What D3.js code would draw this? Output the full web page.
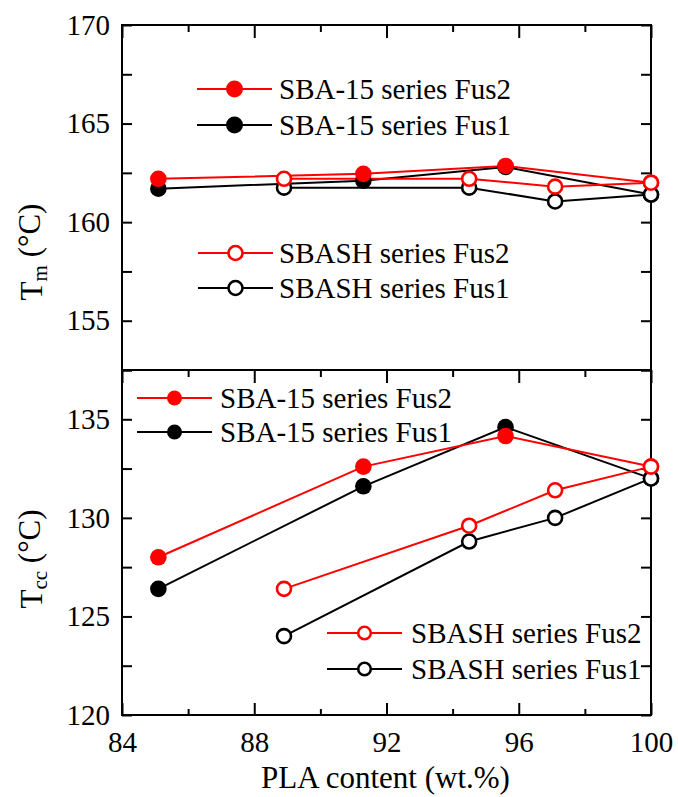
<!DOCTYPE html>
<html>
<head>
<meta charset="utf-8">
<script src="https://cdn.jsdelivr.net/npm/d3@7"></script>
<style>
  html, body { margin: 0; padding: 0; background: #fff; }
  svg { display: block; }
  svg text { font-family: "Liberation Serif", "Times New Roman", Times, "Nimbus Roman", "DejaVu Serif", serif; }
</style>
</head>
<body>
<svg id="chart" width="678" height="797"></svg>
<script>
// PLA content (wt.%) of each composite
const sbaX   = [85.1, 91.3, 95.6, 100];
const sbashX = [88.9, 94.5, 97.1, 100];

// Melting temperature Tm (°C)
const tmSbaFus2   = [162.2, 162.45, 162.85, 162.0];
const tmSbaFus1   = [161.7, 162.1, 162.8, 161.4];
const tmSbashFus2 = [162.2, 162.2, 161.8, 162.0];
const tmSbashFus1 = [161.75, 161.75, 161.05, 161.4];

// Cold crystallization temperature Tcc (°C)
const tccSbaFus2   = [128.0, 132.6, 134.15, 132.6];
const tccSbaFus1   = [126.4, 131.6, 134.6, 132.0];
const tccSbashFus2 = [126.4, 129.6, 131.4, 132.6];
const tccSbashFus1 = [124.0, 128.8, 130.0, 132.0];

// Axis ticks
const xMajor = [84, 88, 92, 96, 100];
const xMinor = [86, 90, 94, 98];
const tmMajor = [155, 160, 165, 170];
const tmMinor = [152.5, 157.5, 162.5, 167.5];
const tccMajor = [120, 125, 130, 135];
const tccMinor = [122.5, 127.5, 132.5, 137.5];

const RED = "#ff0000", BLACK = "#000000";
const SERIF = '"Liberation Serif", "Times New Roman", Times, "Nimbus Roman", "DejaVu Serif", serif';

const svg = d3.select("#chart");
const plotLeft = 122, plotRight = 651, plotTop = 25, plotMid = 370, plotBottom = 715;

const x = d3.scaleLinear([84, 100], [plotLeft, plotRight]);
const yTm = d3.scaleLinear([152.5, 170], [plotMid, plotTop]);
const yTcc = d3.scaleLinear([120, 137.5], [plotBottom, plotMid]);

const FONT = 29;

function styleAxis(g) {
  g.attr("font-family", null).attr("font-size", null);
  g.select(".domain").remove();
  g.selectAll("line").attr("stroke", "#000").attr("stroke-width", 2);
  g.selectAll("text").attr("fill", "#000").style("font-size", FONT + "px")
    .style("font-family", SERIF);
}

function panel(y, yMajor, yMinor, isBottom, series, legends) {
  const g = svg.append("g");
  // frame
  g.append("rect")
    .attr("x", plotLeft).attr("y", y.range()[1])
    .attr("width", plotRight - plotLeft).attr("height", y.range()[0] - y.range()[1])
    .attr("fill", "none").attr("stroke", "#000").attr("stroke-width", 2);

  // left axis, ticks pointing inward
  g.append("g").attr("transform", `translate(${plotLeft},0)`)
    .call(d3.axisLeft(y).tickValues(yMajor).tickSize(-10).tickPadding(12).tickFormat(d3.format("d")))
    .call(styleAxis);
  g.append("g").attr("transform", `translate(${plotLeft},0)`)
    .call(d3.axisLeft(y).tickValues(yMinor).tickSize(-10).tickFormat(""))
    .call(styleAxis);
  // right axis ticks
  g.append("g").attr("transform", `translate(${plotRight},0)`)
    .call(d3.axisRight(y).tickValues(yMajor.concat(yMinor)).tickSize(-10).tickFormat(""))
    .call(styleAxis);
  // top ticks
  const yTop = y.range()[1];
  g.append("g").attr("transform", `translate(0,${yTop})`)
    .call(d3.axisTop(x).tickValues(xMajor).tickSize(-13).tickFormat(""))
    .call(styleAxis);
  g.append("g").attr("transform", `translate(0,${yTop})`)
    .call(d3.axisTop(x).tickValues(xMinor).tickSize(-7).tickFormat(""))
    .call(styleAxis);
  if (isBottom) {
    g.append("g").attr("transform", `translate(0,${plotBottom})`)
      .call(d3.axisBottom(x).tickValues(xMajor).tickSize(-12).tickPadding(16).tickFormat(d3.format("d")))
      .call(styleAxis);
    g.append("g").attr("transform", `translate(0,${plotBottom})`)
      .call(d3.axisBottom(x).tickValues(xMinor).tickSize(-6).tickFormat(""))
      .call(styleAxis);
  }

  const line = d3.line().x(d => x(d[0])).y(d => y(d[1]));
  // lines first
  series.forEach(s => {
    g.append("path").datum(d3.zip(s.xs, s.ys))
      .attr("d", line).attr("fill", "none")
      .attr("stroke", s.color).attr("stroke-width", 2);
  });
  // markers: filled series beneath open series
  const order = series.slice().sort((a, b) => (a.open - b.open));
  order.forEach(s => {
    g.append("g").selectAll("circle").data(d3.zip(s.xs, s.ys)).join("circle")
      .attr("cx", d => x(d[0])).attr("cy", d => y(d[1]))
      .attr("r", s.open ? 7 : 8.3)
      .attr("fill", s.open ? "#fff" : s.color)
      .attr("stroke", s.color)
      .attr("stroke-width", s.open ? 2.6 : 0);
  });

  // legends
  legends.forEach(L => {
    L.rows.forEach((row, i) => {
      const ly = L.y[i];
      const lg = g.append("g");
      lg.append("line").attr("x1", L.x1).attr("x2", L.x2).attr("y1", ly).attr("y2", ly)
        .attr("stroke", row.color).attr("stroke-width", 2);
      lg.append("circle").attr("cx", (L.x1 + L.x2) / 2).attr("cy", ly)
        .attr("r", row.open ? L.r - 1.2 : L.r)
        .attr("fill", row.open ? "#fff" : row.color)
        .attr("stroke", row.color).attr("stroke-width", row.open ? 2.6 : 0);
      lg.append("text").attr("x", L.tx).attr("y", ly).attr("dy", "0.35em")
        .style("font-size", FONT + "px").style("font-family", SERIF)
        .attr("fill", "#000").text(row.label);
    });
  });
}

const sbaF2 = { label: "SBA-15 series Fus2", color: RED, open: false };
const sbaF1 = { label: "SBA-15 series Fus1", color: BLACK, open: false };
const shF2 = { label: "SBASH series Fus2", color: RED, open: true };
const shF1 = { label: "SBASH series Fus1", color: BLACK, open: true };

panel(yTm, tmMajor, tmMinor, false, [
  { ...sbaF1, xs: sbaX, ys: tmSbaFus1 },
  { ...shF1, xs: sbashX, ys: tmSbashFus1 },
  { ...sbaF2, xs: sbaX, ys: tmSbaFus2 },
  { ...shF2, xs: sbashX, ys: tmSbashFus2 }
], [
  { rows: [sbaF2, sbaF1], y: [89, 125], x1: 197, x2: 272, tx: 279, r: 8.5 },
  { rows: [shF2, shF1], y: [253, 288], x1: 198, x2: 273, tx: 279, r: 8.2 }
]);

panel(yTcc, tccMajor, tccMinor, true, [
  { ...sbaF1, xs: sbaX, ys: tccSbaFus1 },
  { ...shF1, xs: sbashX, ys: tccSbashFus1 },
  { ...sbaF2, xs: sbaX, ys: tccSbaFus2 },
  { ...shF2, xs: sbashX, ys: tccSbashFus2 }
], [
  { rows: [sbaF2, sbaF1], y: [398, 432], x1: 137, x2: 212, tx: 220, r: 7.5 },
  { rows: [shF2, shF1], y: [633, 669], x1: 327, x2: 402, tx: 411, r: 7.5 }
]);

// axis titles
svg.append("text").attr("x", (plotLeft + plotRight) / 2 - 1).attr("y", 788)
  .attr("text-anchor", "middle").style("font-size", "31px").style("font-family", SERIF)
  .text("PLA content (wt.%)");

function yTitle(cy, sub) {
  const t = svg.append("text")
    .attr("transform", `translate(42,${cy}) rotate(-90)`)
    .attr("text-anchor", "middle").style("font-size", "31px").style("font-family", SERIF);
  t.append("tspan").text("T");
  t.append("tspan").attr("dy", "0.25em").style("font-size", "21px").text(sub);
  t.append("tspan").attr("dy", "-0.25em").text(" (°C)");
}
yTitle(252, "m");
yTitle(559, "cc");
</script>
</body>
</html>
